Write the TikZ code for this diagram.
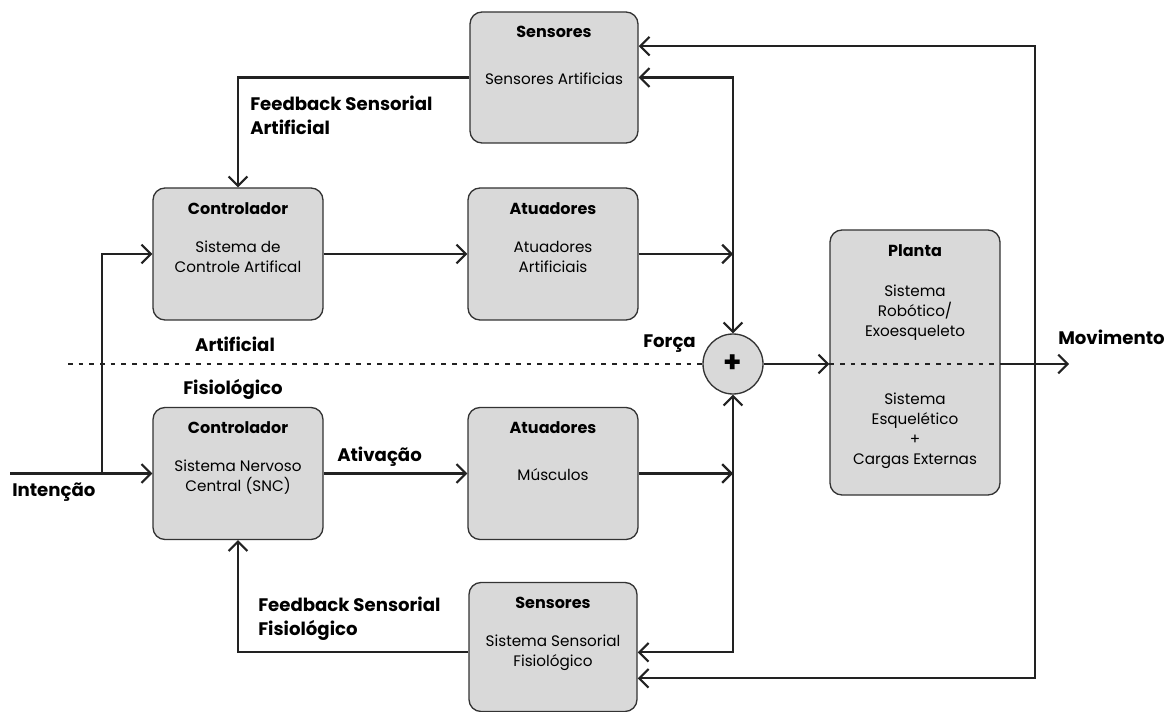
\documentclass[tikz,border=0pt]{standalone}
\usepackage{fontspec}
\setmainfont{Poppins}
\usetikzlibrary{arrows.meta}

\definecolor{boxfill}{HTML}{D9D9D9}
\definecolor{boxline}{HTML}{333333}
\definecolor{wire}{HTML}{222222}

\newcommand\titulo[1]{{\bfseries\fontsize{12}{15}\selectfont #1}}

\tikzset{
  bloco/.style={draw=boxline, line width=1pt, fill=boxfill, rounded corners=9pt,
    minimum width=127.5pt, minimum height=99pt, inner sep=0pt},
  blocotxt/.style={anchor=north, align=center, inner sep=0pt,
    font=\fontsize{11.4}{15}\selectfont},
  rotulo/.style={inner sep=0pt, align=left, font=\bfseries\fontsize{13.6}{18}\selectfont},
  barb/.tip={Straight Barb[length=7pt,width=14pt]},
  seta/.style={draw=wire, line width=1.6pt, -barb},
  seta2/.style={draw=wire, line width=1.6pt, barb-barb},
  pontilhado/.style={draw=wire, line width=1.5pt, dash pattern=on 3.5pt off 4.5pt}
}

\begin{document}
\begin{tikzpicture}[x=0.75pt, y=-0.75pt]
  \useasboundingbox (0,0) rectangle (1173,712);

  % blocos
  \node[bloco, minimum width=126pt, minimum height=98.25pt] (SensorA) at (554,77.5) {};
  \node[bloco] (ControlA) at (238,254) {};
  \node[bloco] (AtuA) at (553,254) {};
  \node[bloco, minimum height=198.75pt] (Planta) at (915,362.5) {};
  \node[bloco] (ControlF) at (238,473.5) {};
  \node[bloco] (AtuF) at (553,473.5) {};
  \node[bloco, minimum width=126pt, minimum height=96.75pt] (SensorF) at (553,647) {};
  \node[circle, draw=boxline, line width=1pt, fill=boxfill, minimum size=45pt,
    inner sep=0pt, font=\bfseries\fontsize{22}{22}\selectfont] (Soma) at (733,364) {+};

  \node[blocotxt] (SensorAtxt) at ([yshift=-11pt]SensorA.north)
    {\titulo{Sensores}\\[20pt]Sensores Artificias};
  \node[blocotxt] (ControlAtxt) at ([yshift=-11pt]ControlA.north)
    {\titulo{Controlador}\\[13.5pt]Sistema de\\Controle Artifical};
  \node[blocotxt] (AtuAtxt) at ([yshift=-11pt]AtuA.north)
    {\titulo{Atuadores}\\[13.5pt]Atuadores\\Artificiais};
  \node[blocotxt] (Plantatxt) at ([yshift=-11pt]Planta.north)
    {\titulo{Planta}\\[15pt]Sistema\\Robótico/\\Exoesqueleto\\[36pt]Sistema\\Esquelético\\+\\Cargas Externas};
  \node[blocotxt] (ControlFtxt) at ([yshift=-11pt]ControlF.north)
    {\titulo{Controlador}\\[13.5pt]Sistema Nervoso\\Central (SNC)};
  \node[blocotxt] (AtuFtxt) at ([yshift=-11pt]AtuF.north)
    {\titulo{Atuadores}\\[20pt]Músculos};
  \node[blocotxt] (SensorFtxt) at ([yshift=-11pt]SensorF.north)
    {\titulo{Sensores}\\[13.5pt]Sistema Sensorial\\Fisiológico};

  \coordinate (Esq) at (68,364);
  \coordinate (Intencao) at (10,473.5);
  \coordinate (Ramo) at (102,473.5);
  \coordinate (Saida) at (1035,364);
  \coordinate (Movim) at (1069,364);

  % divisao artificial / fisiologico
  \draw[pontilhado] (Esq) -- (Soma.west);
  \draw[pontilhado] (Planta.west |- Soma) -- (Planta.east |- Soma);

  \draw[seta] (Intencao) -- (ControlF.west);
  \draw[seta] (Ramo) |- (ControlA.west);
  \draw[seta] (ControlA) -- (AtuA);
  \draw[seta] (ControlF) -- (AtuF);
  \draw[seta] (AtuA.east) -- (AtuA.east -| Soma);
  \draw[seta] (AtuF.east) -- (AtuF.east -| Soma);
  \draw[seta2] (SensorA.east) -| (Soma.north);
  \draw[seta2] ([yshift=-4pt]SensorF.east) -| (Soma.south);
  \draw[seta] (Soma) -- (Planta.west |- Soma);
  \draw[seta] (Planta.east |- Soma) -- (Movim);
  \draw[seta] (Saida) |- ([yshift=23.5pt]SensorA.east);
  \draw[seta] (Saida) |- ([yshift=-23.5pt]SensorF.east);
  \draw[seta] (SensorA.west) -| (ControlA.north);
  \draw[seta] ([yshift=-4pt]SensorF.west) -| (ControlF.south);

  % rotulos
  \node[rotulo, anchor=west] (FbA) at (250,115) {Feedback Sensorial\\Artificial};
  \node[rotulo] (LblArt) at (235,344) {Artificial};
  \node[rotulo] (LblFis) at (233,389) {Fisiológico};
  \node[rotulo, anchor=west] (LblForca) at (643,344) {Força};
  \node[rotulo, anchor=west] (LblMov) at (1058,337) {Movimento};
  \node[rotulo, anchor=west] (LblAtiv) at (337,457) {Ativação};
  \node[rotulo, anchor=west] (LblInt) at (12,492) {Intenção};
  \node[rotulo, anchor=west] (FbF) at (258,619) {Feedback Sensorial\\Fisiológico};
\end{tikzpicture}
\end{document}
